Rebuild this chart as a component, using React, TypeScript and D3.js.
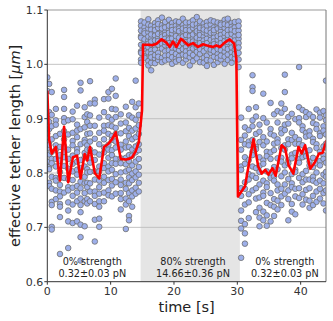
import * as d3 from "d3";

const W = 333;
const H = 321;
const margin = { top: 10, right: 7, bottom: 39.3, left: 47.3 };

// shaded "80% strength" interval [s]
const shadeSpan = [14.73, 30.4];

const xTicks = [0, 10, 20, 30, 40];
const yTicks = [0.6, 0.7, 0.8, 0.9, 1.0, 1.1];
const gridLevels = [0.7, 0.8, 0.9, 1.0];

// phase 1 (0% strength): frame times and tether lengths per frame
const times1 = [0, 0.3, 0.7, 1.35, 2.0, 2.65, 3.3, 4.0, 4.7, 5.25, 5.9, 6.3, 6.75, 7.5, 8.2, 8.95, 9.65, 10.2, 10.8, 11.6, 12.4, 12.9, 13.4, 13.95, 14.45];
const lengths1 = [
  [0.976, 0.951, 0.902, 0.873, 0.846, 0.821],
  [0.964, 0.912, 0.894, 0.881, 0.858, 0.852, 0.834, 0.811, 0.807, 0.782, 0.776],
  [0.949, 0.907, 0.886, 0.862, 0.839, 0.826, 0.818, 0.793, 0.771, 0.747, 0.741, 0.701, 0.696],
  [0.918, 0.897, 0.889, 0.868, 0.851, 0.843, 0.826, 0.812, 0.791, 0.786, 0.768, 0.752],
  [0.872, 0.848, 0.833, 0.822, 0.802, 0.791, 0.778, 0.766, 0.757, 0.743, 0.738, 0.719, 0.651],
  [0.953, 0.94, 0.918, 0.901, 0.894, 0.877, 0.862, 0.849, 0.838, 0.829, 0.813, 0.791, 0.764],
  [0.897, 0.871, 0.843, 0.826, 0.808, 0.789, 0.774, 0.768, 0.746, 0.731, 0.711, 0.662],
  [0.913, 0.899, 0.874, 0.859, 0.851, 0.832, 0.817, 0.803, 0.787, 0.773, 0.758, 0.742, 0.708],
  [0.924, 0.889, 0.878, 0.866, 0.844, 0.838, 0.821, 0.806, 0.797, 0.776, 0.764, 0.748, 0.711],
  [0.966, 0.952, 0.881, 0.853, 0.824, 0.809, 0.784, 0.772, 0.753, 0.741, 0.728, 0.705, 0.682, 0.639],
  [0.921, 0.903, 0.884, 0.861, 0.856, 0.837, 0.829, 0.812, 0.793, 0.781, 0.763, 0.748, 0.702],
  [0.908, 0.894, 0.872, 0.851, 0.843, 0.828, 0.807, 0.801, 0.782, 0.774, 0.752, 0.744],
  [0.969, 0.928, 0.906, 0.887, 0.873, 0.858, 0.843, 0.827, 0.819, 0.802, 0.781, 0.766, 0.748],
  [0.935, 0.928, 0.887, 0.863, 0.838, 0.824, 0.803, 0.788, 0.766, 0.758, 0.743, 0.714, 0.674],
  [0.902, 0.874, 0.853, 0.834, 0.812, 0.803, 0.786, 0.774, 0.762, 0.748, 0.738, 0.716, 0.701],
  [0.936, 0.912, 0.887, 0.878, 0.862, 0.847, 0.838, 0.818, 0.809, 0.793, 0.782, 0.764, 0.748],
  [0.949, 0.937, 0.903, 0.888, 0.872, 0.852, 0.843, 0.828, 0.812, 0.803, 0.787, 0.768, 0.759],
  [0.955, 0.918, 0.898, 0.886, 0.868, 0.861, 0.842, 0.833, 0.818, 0.806, 0.789, 0.777, 0.757],
  [0.974, 0.942, 0.917, 0.903, 0.883, 0.872, 0.858, 0.847, 0.826, 0.817, 0.798, 0.783, 0.762],
  [0.908, 0.891, 0.873, 0.852, 0.843, 0.827, 0.818, 0.801, 0.788, 0.778, 0.763, 0.752, 0.733],
  [0.922, 0.893, 0.877, 0.858, 0.847, 0.828, 0.816, 0.803, 0.782, 0.771, 0.753, 0.742, 0.697],
  [0.906, 0.883, 0.868, 0.848, 0.833, 0.822, 0.806, 0.792, 0.781, 0.763, 0.748, 0.721, 0.713],
  [0.931, 0.902, 0.878, 0.862, 0.843, 0.832, 0.814, 0.799, 0.787, 0.768, 0.757, 0.738],
  [0.970, 0.921, 0.898, 0.882, 0.866, 0.849, 0.838, 0.821, 0.803, 0.792, 0.773, 0.762],
  [0.928, 0.907, 0.888, 0.872, 0.853, 0.842, 0.826, 0.811, 0.797, 0.782, 0.766],
];

// phase 2 (80% strength)
const times2 = [14.8, 15.35, 15.95, 16.4, 17.0, 17.5, 18.1, 18.6, 19.2, 19.7, 20.3, 20.8, 21.4, 21.9, 22.5, 23.0, 23.6, 24.1, 24.7, 25.2, 25.8, 26.3, 26.9, 27.4, 28.0, 28.5, 29.1, 29.6, 30.2];
const lengths2 = [
  [1.079, 1.071, 1.052, 1.049, 1.036, 1.024, 1.021, 1.009, 1.062, 1.003],
  [1.068, 1.061, 1.057, 1.041, 1.029, 1.015, 1.077, 1.046, 1.012, 1.034],
  [1.083, 1.059, 1.044, 1.038, 1.031, 1.006, 0.998, 1.066, 1.022, 1.051, 1.073],
  [1.071, 1.064, 1.047, 1.026, 1.019, 1.003, 0.989, 1.055, 1.036, 1.042, 1.013],
  [1.076, 1.058, 1.053, 1.032, 1.011, 1.069, 1.044, 1.027, 1.017, 1.063, 1.002],
  [1.081, 1.067, 1.049, 1.043, 1.021, 1.008, 1.074, 1.036, 1.056, 1.014],
  [1.086, 1.072, 1.061, 1.045, 1.038, 1.029, 1.012, 1.055, 1.066, 1.004, 1.051],
  [1.073, 1.059, 1.054, 1.035, 1.024, 1.016, 1.068, 1.047, 1.007, 1.041, 1.078],
  [1.082, 1.064, 1.051, 1.033, 1.026, 1.009, 1.071, 1.046, 1.039, 1.017, 1.058],
  [1.076, 1.069, 1.048, 1.037, 1.022, 1.013, 1.001, 1.057, 1.063, 1.031],
  [1.079, 1.058, 1.044, 1.029, 1.011, 1.071, 1.052, 1.036, 1.019, 1.064, 1.005],
  [1.074, 1.066, 1.061, 1.042, 1.026, 1.015, 1.078, 1.049, 1.034, 1.008],
  [1.084, 1.072, 1.056, 1.047, 1.039, 1.018, 1.062, 1.028, 1.066, 1.003, 1.051],
  [1.069, 1.063, 1.045, 1.032, 1.024, 1.009, 1.077, 1.054, 1.041, 1.016],
  [1.077, 1.059, 1.052, 1.036, 1.027, 0.998, 1.068, 1.044, 1.013, 1.063, 1.021],
  [1.081, 1.067, 1.048, 1.038, 1.017, 1.006, 1.073, 1.055, 1.029, 1.042],
  [1.087, 1.074, 1.058, 1.043, 1.031, 1.011, 1.066, 1.049, 1.023, 1.036, 1.061],
  [1.072, 1.061, 1.046, 1.039, 1.019, 1.004, 1.079, 1.054, 1.028, 1.067],
  [1.075, 1.068, 1.051, 1.033, 1.024, 1.012, 1.059, 1.044, 1.003, 1.037, 1.064],
  [1.078, 1.056, 1.047, 1.029, 1.016, 0.997, 1.071, 1.062, 1.039, 1.008],
  [1.073, 1.064, 1.053, 1.034, 1.021, 1.007, 1.081, 1.045, 1.027, 1.058],
  [1.079, 1.058, 1.049, 1.031, 1.014, 1.068, 1.042, 1.024, 0.999, 1.063, 1.037],
  [1.071, 1.066, 1.045, 1.036, 1.019, 1.004, 1.077, 1.052, 1.028, 1.012],
  [1.076, 1.061, 1.054, 1.032, 1.026, 1.009, 1.069, 1.047, 1.039, 1.016, 1.073],
  [1.082, 1.067, 1.051, 1.043, 1.023, 1.001, 1.074, 1.058, 1.031, 1.014],
  [1.079, 1.072, 1.063, 1.046, 1.035, 1.018, 1.084, 1.054, 1.028, 1.008, 1.041],
  [1.076, 1.059, 1.049, 1.038, 1.022, 1.003, 1.069, 1.056, 1.031, 1.013, 1.064],
  [1.073, 1.068, 1.051, 1.044, 1.027, 1.011, 1.078, 1.036, 1.019, 1.061],
  [1.079, 1.062, 1.047, 1.039, 1.021, 0.995, 1.071, 1.054, 1.031, 1.009],
];

// phase 3 (0% strength again)
const times3 = [30.6, 31.2, 31.8, 32.4, 32.95, 33.5, 34.1, 34.65, 35.25, 35.8, 36.35, 36.95, 37.5, 38.05, 38.6, 39.15, 39.75, 40.3, 40.85, 41.4, 41.95, 42.5, 43.05, 43.6, 44.0];
const lengths3 = [
  [0.902, 0.861, 0.843, 0.812, 0.806, 0.772, 0.758, 0.731, 0.712, 0.698, 0.644],
  [0.884, 0.869, 0.829, 0.817, 0.783, 0.771, 0.742, 0.706, 0.689, 0.670, 0.853],
  [0.918, 0.879, 0.858, 0.851, 0.824, 0.798, 0.788, 0.761, 0.746, 0.717],
  [0.980, 0.958, 0.951, 0.897, 0.886, 0.861, 0.839, 0.833, 0.812, 0.795, 0.768],
  [0.921, 0.904, 0.872, 0.848, 0.844, 0.809, 0.791, 0.772, 0.753, 0.728],
  [0.889, 0.876, 0.857, 0.829, 0.813, 0.802, 0.779, 0.755, 0.736, 0.718, 0.702],
  [0.946, 0.901, 0.866, 0.851, 0.823, 0.817, 0.786, 0.764, 0.758, 0.729, 0.713],
  [0.893, 0.858, 0.839, 0.831, 0.803, 0.781, 0.774, 0.745, 0.722, 0.703],
  [0.929, 0.881, 0.872, 0.838, 0.826, 0.798, 0.791, 0.763, 0.741, 0.711],
  [0.908, 0.869, 0.854, 0.842, 0.811, 0.794, 0.786, 0.752, 0.738, 0.721],
  [0.914, 0.893, 0.862, 0.856, 0.827, 0.807, 0.779, 0.768, 0.749, 0.733],
  [0.928, 0.911, 0.881, 0.873, 0.846, 0.828, 0.821, 0.794, 0.771, 0.757, 0.741],
  [0.981, 0.949, 0.918, 0.889, 0.879, 0.851, 0.843, 0.814, 0.801, 0.779, 0.762],
  [0.903, 0.891, 0.862, 0.853, 0.824, 0.818, 0.789, 0.768, 0.752, 0.713],
  [0.909, 0.874, 0.861, 0.834, 0.827, 0.798, 0.781, 0.774, 0.743, 0.729],
  [0.899, 0.866, 0.854, 0.837, 0.806, 0.802, 0.771, 0.757, 0.724],
  [0.995, 0.921, 0.901, 0.893, 0.861, 0.853, 0.826, 0.819, 0.791, 0.772, 0.754],
  [0.916, 0.886, 0.879, 0.851, 0.834, 0.829, 0.798, 0.783, 0.761, 0.742],
  [0.912, 0.903, 0.874, 0.867, 0.839, 0.831, 0.804, 0.788, 0.769, 0.751],
  [0.908, 0.877, 0.869, 0.842, 0.821, 0.814, 0.788, 0.772, 0.749, 0.736],
  [0.903, 0.892, 0.863, 0.857, 0.828, 0.811, 0.793, 0.786, 0.758, 0.741],
  [0.917, 0.889, 0.881, 0.853, 0.846, 0.818, 0.801, 0.782, 0.766, 0.747],
  [0.911, 0.902, 0.873, 0.868, 0.839, 0.822, 0.814, 0.786, 0.771, 0.753],
  [0.914, 0.886, 0.878, 0.849, 0.833, 0.826, 0.797, 0.781, 0.763, 0.744],
  [0.970, 0.906, 0.897, 0.871, 0.854, 0.847, 0.819, 0.802, 0.793, 0.768, 0.731],
];

// mean tether length (red line)
const meanTimes = [0, 0.27, 0.7, 1.35, 2.0, 2.65, 3.3, 4.05, 4.7, 5.25, 5.9, 6.3, 6.75, 7.5, 8.2, 8.95, 9.65, 10.2, 10.8, 11.6, 12.4, 12.9, 13.4, 13.95, 14.45, 14.95,
  15.12, 15.9, 16.55, 17.25, 18.05, 18.8, 19.35, 19.85, 20.4, 21.1, 21.7, 22.25, 23.0, 23.8, 24.6, 25.4, 26.2, 26.7, 27.25, 28.0, 28.8, 29.5, 29.85,
  30.1, 31.2, 31.85, 32.55, 33.3, 33.85, 34.4, 34.9, 35.55, 36.05, 37.0, 37.55, 38.1, 38.85, 39.65, 40.15, 40.7, 41.5, 42.25, 42.9, 43.45, 44.1];
const meanLengths = [0.952, 0.863, 0.836, 0.848, 0.786, 0.885, 0.783, 0.829, 0.832, 0.79, 0.835, 0.823, 0.848, 0.80, 0.79, 0.848, 0.854, 0.862, 0.875, 0.826, 0.825, 0.826, 0.829, 0.84, 0.857, 0.915,
  1.036, 1.036, 1.035, 1.038, 1.046, 1.04, 1.032, 1.042, 1.032, 1.047, 1.041, 1.035, 1.039, 1.032, 1.037, 1.034, 1.032, 1.035, 1.032, 1.04, 1.046, 1.038, 1.01,
  0.757, 0.775, 0.818, 0.862, 0.812, 0.799, 0.806, 0.797, 0.809, 0.795, 0.851, 0.845, 0.814, 0.799, 0.848, 0.836, 0.851, 0.808, 0.82, 0.836, 0.837, 0.86];

// annotation per phase: centre time, strength, force
const labelTimes = [7.1, 23.0, 37.5];
const labelStrength = ["0% strength", "80% strength", "0% strength"];
const labelForce = ["0.32±0.03 pN", "14.66±0.36 pN", "0.32±0.03 pN"];

const font = "DejaVu Sans, sans-serif";

export default function App() {
  const x = d3.scaleLinear([0, 44], [margin.left, W - margin.right]);
  const y = d3.scaleLinear([0.6, 1.1], [H - margin.bottom, margin.top]);

  const points: { t: number; v: number }[] = [];
  [[times1, lengths1], [times2, lengths2], [times3, lengths3]].forEach(([ts, vs]: any) => {
    ts.forEach((t: number, i: number) => vs[i].forEach((v: number) => points.push({ t, v })));
  });

  const line = d3.line<number>((_, i) => x(meanTimes[i]), (d) => y(d));

  const left = margin.left;
  const right = W - margin.right;
  const top = margin.top;
  const bottom = H - margin.bottom;

  return (
    <svg width={W} height={H} style={{ position: "absolute", left: 0, top: 0 }} fontFamily={font}>
      <defs>
        <clipPath id="plot">
          <rect x={left} y={top} width={right - left} height={bottom - top} />
        </clipPath>
      </defs>
      <rect x={0} y={0} width={W} height={H} fill="white" />
      {/* shaded 80% phase */}
      <rect x={x(shadeSpan[0])} y={top} width={x(shadeSpan[1]) - x(shadeSpan[0])} height={bottom - top} fill="#e5e5e5" />
      {/* grid */}
      {gridLevels.map((g) => (
        <line key={g} x1={left} x2={right} y1={y(g)} y2={y(g)} stroke="#bdbdbd" strokeWidth={0.9} />
      ))}
      <g clipPath="url(#plot)">
        {points.map((p, i) => (
          <circle key={i} cx={x(p.t)} cy={y(p.v)} r={2.8} fill="#9dafea" stroke="#6e6e6e" strokeWidth={0.8} />
        ))}
        <path d={line(meanLengths) || ""} fill="none" stroke="#ff0000" strokeWidth={2.6} strokeLinejoin="round" />
      </g>
      {/* annotations */}
      {labelTimes.map((t, i) => (
        <text key={i} x={x(t)} fontSize={9.7} fill="#222" textAnchor="middle">
          <tspan x={x(t)} y={264.5}>{labelStrength[i]}</tspan>
          <tspan x={x(t)} y={277}>{labelForce[i]}</tspan>
        </text>
      ))}
      {/* spines */}
      <line x1={left} x2={right} y1={top} y2={top} stroke="#999" strokeWidth={1} />
      <line x1={right} x2={right} y1={top} y2={bottom} stroke="#777" strokeWidth={1} />
      <line x1={left} x2={left} y1={top} y2={bottom} stroke="#333" strokeWidth={1} />
      <line x1={left} x2={right} y1={bottom} y2={bottom} stroke="#333" strokeWidth={1} />
      {/* y axis */}
      {yTicks.map((t) => (
        <g key={t}>
          <line x1={left - 3} x2={left} y1={y(t)} y2={y(t)} stroke="#333" />
          <text x={left - 4} y={y(t) + 4} fontSize={11} fill="#333" textAnchor="end">{t.toFixed(1)}</text>
        </g>
      ))}
      {/* x axis */}
      {xTicks.map((t) => (
        <g key={t}>
          <line x1={x(t)} x2={x(t)} y1={bottom} y2={bottom + 3} stroke="#333" />
          <text x={x(t)} y={295} fontSize={11} fill="#333" textAnchor="middle">{t}</text>
        </g>
      ))}
      <text x={(left + right) / 2} y={312} fontSize={14.5} fill="#222" textAnchor="middle">time [s]</text>
      <text transform={`translate(19.5,${(top + bottom) / 2}) rotate(-90)`} fontSize={14.5} fill="#222" textAnchor="middle">
        effective tether length [<tspan fontStyle="italic">μm</tspan>]
      </text>
    </svg>
  );
}
